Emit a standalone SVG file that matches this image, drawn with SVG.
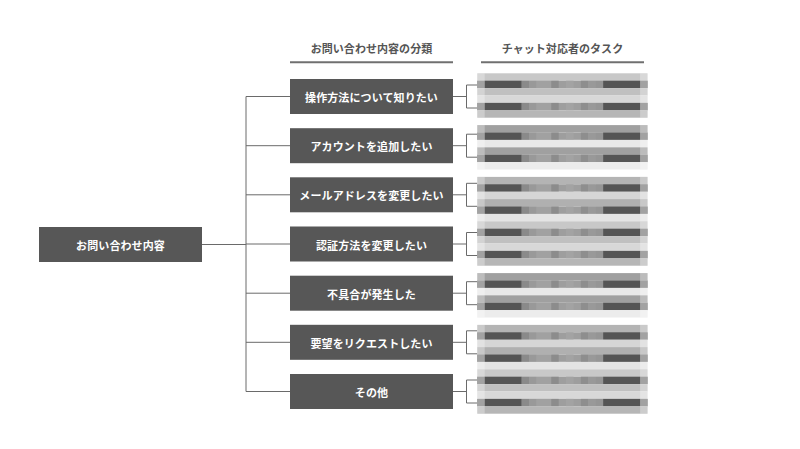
<svg xmlns="http://www.w3.org/2000/svg" xmlns:xlink="http://www.w3.org/1999/xlink" width="800" height="449" viewBox="0 0 800 449">
<style>
.bg{fill:#ffffff}
.box{fill:#575757}
.lbl{font-family:"Noto Sans CJK JP","Noto Sans",sans-serif;font-size:11px;font-weight:700;fill:#ffffff;text-anchor:middle;dominant-baseline:central;letter-spacing:0.1px}
.hdr{font-family:"Noto Sans CJK JP","Noto Sans",sans-serif;font-size:11px;font-weight:700;fill:#555555;text-anchor:middle;dominant-baseline:central;letter-spacing:0.05px}
.ul{stroke:#707070;stroke-width:2;fill:none}
.ln{stroke:#6a6a6a;stroke-width:1;fill:none}
.edge{fill:#ffffff;fill-opacity:0.3}
</style>
<defs>
<g id="dk">
<rect x="0" y="0" width="170.2" height="7.4" fill="#9e9e9e"/>
<rect x="0" y="0" width="7.4" height="7.4" fill="#7a7a7a"/>
<rect x="162.8" y="0" width="7.4" height="7.4" fill="#7a7a7a"/>
<rect x="7.4" y="0" width="37" height="7.4" fill="#555555"/>
<rect x="125.8" y="0" width="37" height="7.4" fill="#555555"/>
<rect x="44.4" y="0" width="7.4" height="7.4" fill="#8a8a8a"/>
<rect x="51.8" y="0" width="7.4" height="7.4" fill="#999999"/>
<rect x="59.2" y="0" width="14.8" height="7.4" fill="#a1a1a1"/>
<rect x="74" y="0" width="7.4" height="7.4" fill="#8c8c8c"/>
<rect x="88.8" y="0" width="7.4" height="7.4" fill="#a3a3a3"/>
<rect x="103.6" y="0" width="7.4" height="7.4" fill="#8e8e8e"/>
<rect x="111" y="0" width="7.4" height="7.4" fill="#999999"/>
<rect x="118.4" y="0" width="7.4" height="7.4" fill="#959595"/>
</g>
<g id="tA">
<rect x="0" y="0" width="170.2" height="7.4" fill="#c8c8c8"/>
<use xlink:href="#dk" href="#dk" x="0" y="7.4"/>
<rect x="0" y="14.8" width="170.2" height="7.4" fill="#c0c0c0"/>
<rect x="0" y="22.2" width="170.2" height="7.4" fill="#d8d8d8"/>
<use xlink:href="#dk" href="#dk" x="0" y="29.6"/>
<rect x="0" y="37" width="170.2" height="7.4" fill="#b6b6b6"/>
<rect class="edge" x="0" y="0" width="7.4" height="44.4"/>
<rect class="edge" x="162.8" y="0" width="7.4" height="44.4"/>
</g>
<g id="tB">
<rect x="0" y="0" width="170.2" height="7.4" fill="#a0a0a0"/>
<use xlink:href="#dk" href="#dk" x="0" y="7.4"/>
<rect x="0" y="14.8" width="170.2" height="7.4" fill="#e8e8e8"/>
<rect x="0" y="22.2" width="170.2" height="7.4" fill="#a0a0a0"/>
<use xlink:href="#dk" href="#dk" x="0" y="29.6"/>
<rect x="0" y="37" width="170.2" height="7.4" fill="#ececec"/>
<rect class="edge" x="0" y="0" width="7.4" height="44.4"/>
<rect class="edge" x="162.8" y="0" width="7.4" height="44.4"/>
</g>
<g id="tC">
<rect x="0" y="0" width="170.2" height="7.4" fill="#b4b4b4"/>
<use xlink:href="#dk" href="#dk" x="0" y="7.4"/>
<rect x="0" y="14.8" width="170.2" height="7.4" fill="#d6d6d6"/>
<rect x="0" y="22.2" width="170.2" height="7.4" fill="#b0b0b0"/>
<use xlink:href="#dk" href="#dk" x="0" y="29.6"/>
<rect x="0" y="37" width="170.2" height="7.4" fill="#e4e4e4"/>
<rect class="edge" x="0" y="0" width="7.4" height="44.4"/>
<rect class="edge" x="162.8" y="0" width="7.4" height="44.4"/>
</g>
</defs>
<rect class="bg" x="0" y="0" width="800" height="449"/>

<g id="headers">
<text class="hdr" x="371.5" y="47.5">お問い合わせ内容の分類</text>
<line class="ul" x1="290" y1="62.3" x2="453" y2="62.3"/>
<text class="hdr" x="562.5" y="47.5">チャット対応者のタスク</text>
<line class="ul" x1="481" y1="62.3" x2="644" y2="62.3"/>
</g>

<g id="connectors">
<path class="ln" d="M202 244.5H246M246 96.5V391.5M246 96.5H290M246 145.7H290M246 194.8H290M246 244H290M246 293.2H290M246 342.3H290M246 391.5H290"/>
<path class="ln" d="M453 96.5H466.5M466.5 85V108M466.5 85H477.3M466.5 108H477.3"/>
<path class="ln" d="M453 145.7H466.5M466.5 134.2V157.2M466.5 134.2H477.3M466.5 157.2H477.3"/>
<path class="ln" d="M453 194.8H466.5M466.5 183.3V206.3M466.5 183.3H477.3M466.5 206.3H477.3"/>
<path class="ln" d="M453 244H466.5M466.5 232.5V255.5M466.5 232.5H477.3M466.5 255.5H477.3"/>
<path class="ln" d="M453 293.2H466.5M466.5 281.7V304.7M466.5 281.7H477.3M466.5 304.7H477.3"/>
<path class="ln" d="M453 342.3H466.5M466.5 330.8V353.8M466.5 330.8H477.3M466.5 353.8H477.3"/>
<path class="ln" d="M453 391.5H466.5M466.5 380V403M466.5 380H477.3M466.5 403H477.3"/>
</g>

<g id="root">
<rect class="box" x="39" y="227" width="163" height="35"/>
<text class="lbl" x="120.5" y="244.8">お問い合わせ内容</text>
</g>

<g id="cat1">
<rect class="box" x="290" y="79" width="163" height="35"/>
<text class="lbl" x="371.5" y="97">操作方法について知りたい</text>
</g>
<g id="cat2">
<rect class="box" x="290" y="128.2" width="163" height="35"/>
<text class="lbl" x="371.5" y="146.2">アカウントを追加したい</text>
</g>
<g id="cat3">
<rect class="box" x="290" y="177.3" width="163" height="35"/>
<text class="lbl" x="371.5" y="195.3">メールアドレスを変更したい</text>
</g>
<g id="cat4">
<rect class="box" x="290" y="226.5" width="163" height="35"/>
<text class="lbl" x="371.5" y="244.5">認証方法を変更したい</text>
</g>
<g id="cat5">
<rect class="box" x="290" y="275.7" width="163" height="35"/>
<text class="lbl" x="371.5" y="293.7">不具合が発生した</text>
</g>
<g id="cat6">
<rect class="box" x="290" y="324.8" width="163" height="35"/>
<text class="lbl" x="371.5" y="342.8">要望をリクエストしたい</text>
</g>
<g id="cat7">
<rect class="box" x="290" y="374" width="163" height="35"/>
<text class="lbl" x="371.5" y="392">その他</text>
</g>

<g id="task1"><use xlink:href="#tA" href="#tA" x="477.3" y="73.3"/></g>
<g id="task2"><use xlink:href="#tB" href="#tB" x="477.3" y="125.1"/></g>
<g id="task3"><use xlink:href="#tC" href="#tC" x="477.3" y="176.9"/></g>
<g id="task4"><use xlink:href="#tA" href="#tA" x="477.3" y="221.3"/></g>
<g id="task5"><use xlink:href="#tB" href="#tB" x="477.3" y="273.1"/></g>
<g id="task6"><use xlink:href="#tC" href="#tC" x="477.3" y="324.9"/></g>
<g id="task7"><use xlink:href="#tA" href="#tA" x="477.3" y="369.3"/></g>
</svg>
